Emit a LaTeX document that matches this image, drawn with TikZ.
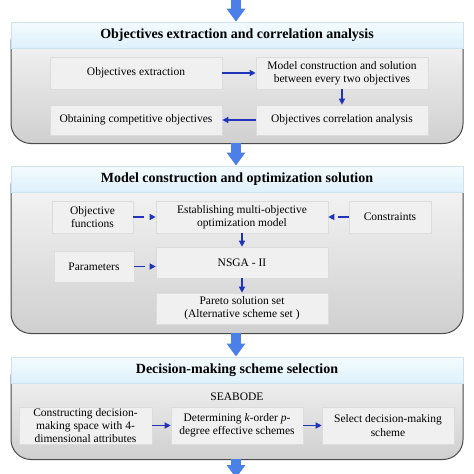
\documentclass[tikz,border=0pt]{standalone}
\usepackage{fontspec}
\setmainfont{Liberation Serif}
\usetikzlibrary{arrows.meta}
\definecolor{bodytop}{HTML}{F8F8F8}
\definecolor{bodybot}{HTML}{CFCFCF}
\definecolor{bodyline}{HTML}{4A4A4A}
\definecolor{headtop}{HTML}{F4FBFE}
\definecolor{headmid}{HTML}{BCE4F8}
\definecolor{headbot}{HTML}{DDF1FB}
\definecolor{headline}{HTML}{CFE3EE}
\definecolor{boxfill}{HTML}{F0F0F0}
\definecolor{boxline}{HTML}{DCDCDC}
\definecolor{bigblue}{HTML}{4A80E8}
\definecolor{connblue}{HTML}{2233BB}
\tikzset{
  bodybox/.style={draw=bodyline, line width=1pt, rounded corners=20pt,
    top color=bodytop, bottom color=bodybot, minimum width=452pt, anchor=north, inner sep=0pt},
  headbox/.style={draw=headline, line width=0.6pt, top color=headtop, middle color=headmid, bottom color=headbot,
    shading angle=0, minimum width=452pt, minimum height=26pt, inner sep=0pt,
    font=\fontsize{14}{16}\selectfont\bfseries},
  stepbox/.style={draw=boxline, line width=0.6pt, fill=boxfill, align=center, inner sep=0pt,
    font=\fontsize{11.5}{13.3}\selectfont},
  plaintext/.style={inner sep=0pt, font=\fontsize{11.5}{13.3}\selectfont},
  blockarrow/.style={draw=bigblue, line width=10pt, -{Triangle[width=18pt,length=13pt]}},
  conn/.style={draw=connblue, line width=1.3pt, -{Triangle[width=6pt,length=6pt]}},
  dconn/.style={conn, dash pattern=on 11pt off 10pt},
}
\begin{document}
\begin{tikzpicture}[x=1pt,y=-1pt]
\useasboundingbox (0,0) rectangle (474,474);
% ---------- Panel 1 ----------
\node[bodybox, minimum height=121pt] (b1) at (237,22) {};
\node[headbox] (h1) at (237,35) {Objectives extraction and correlation analysis};
\node[stepbox, minimum width=172pt, minimum height=32pt] (oe) at (136,73) {Objectives extraction};
\node[stepbox, minimum width=172pt, minimum height=32pt] (mc) at (342,73) {Model construction and solution\\between every two objectives};
\node[stepbox, minimum width=172pt, minimum height=30pt] (oc) at (136,120) {Obtaining competitive objectives};
\node[stepbox, minimum width=172pt, minimum height=30pt] (ca) at (342,120) {Objectives correlation analysis};
\draw[conn] (oe) -- (mc);
\draw[conn] (mc) -- (ca);
\draw[conn] (ca) -- (oc);
% ---------- Panel 2 ----------
\node[bodybox, minimum height=167pt] (b2) at (237,166) {};
\node[headbox] (h2) at (237,179) {Model construction and optimization solution};
\node[stepbox, minimum width=81pt, minimum height=32pt] (of) at (92.5,217) {Objective\\functions};
\node[stepbox, minimum width=172pt, minimum height=32pt] (em) at (242,217) {Establishing multi-objective\\optimization model};
\node[stepbox, minimum width=82pt, minimum height=32pt] (cs) at (390,217) {Constraints};
\node[stepbox, minimum width=80pt, minimum height=31pt] (pa) at (94,266.5) {Parameters};
\node[stepbox, minimum width=172pt, minimum height=31pt] (ns) at (242,262.5) {NSGA - II};
\node[stepbox, minimum width=172pt, minimum height=31pt] (ps) at (242,308.5) {Pareto solution set\\(Alternative scheme set )};
\draw[dconn] (of) -- (em);
\draw[dconn] (cs) -- (em);
\draw[conn] (em) -- (ns);
\draw[dconn] (pa.east) -- (pa.east -| ns.west);
\draw[conn] (ns) -- (ps);
% ---------- Panel 3 ----------
\node[bodybox, minimum height=102pt] (b3) at (237,357) {};
\node[headbox] (h3) at (237,370) {Decision-making scheme selection};
\node[plaintext] (sb) at (237,397) {SEABODE};
\node[stepbox, minimum width=133pt, minimum height=37pt] (cd) at (85.5,425.5) {Constructing decision-\\making space with 4-\\dimensional attributes};
\node[stepbox, minimum width=132pt, minimum height=37pt] (dk) at (237,425.5) {Determining \textit{k}-order \textit{p}-\\degree effective schemes};
\node[stepbox, minimum width=132pt, minimum height=37pt] (sd) at (388,425.5) {Select decision-making\\scheme};
\draw[conn] (cd) -- (dk);
\draw[conn] (dk) -- (sd);
% ---------- Block arrows ----------
\coordinate (top) at (236,-2);
\coordinate (bot) at (236,478);
\draw[blockarrow] (top) -- (top |- h1.north);
\draw[blockarrow] (236,143) -- (236,165.5);
\draw[blockarrow] (236,333) -- (236,356.5);
\draw[blockarrow] (236,459) -- (bot);
\end{tikzpicture}
\end{document}
